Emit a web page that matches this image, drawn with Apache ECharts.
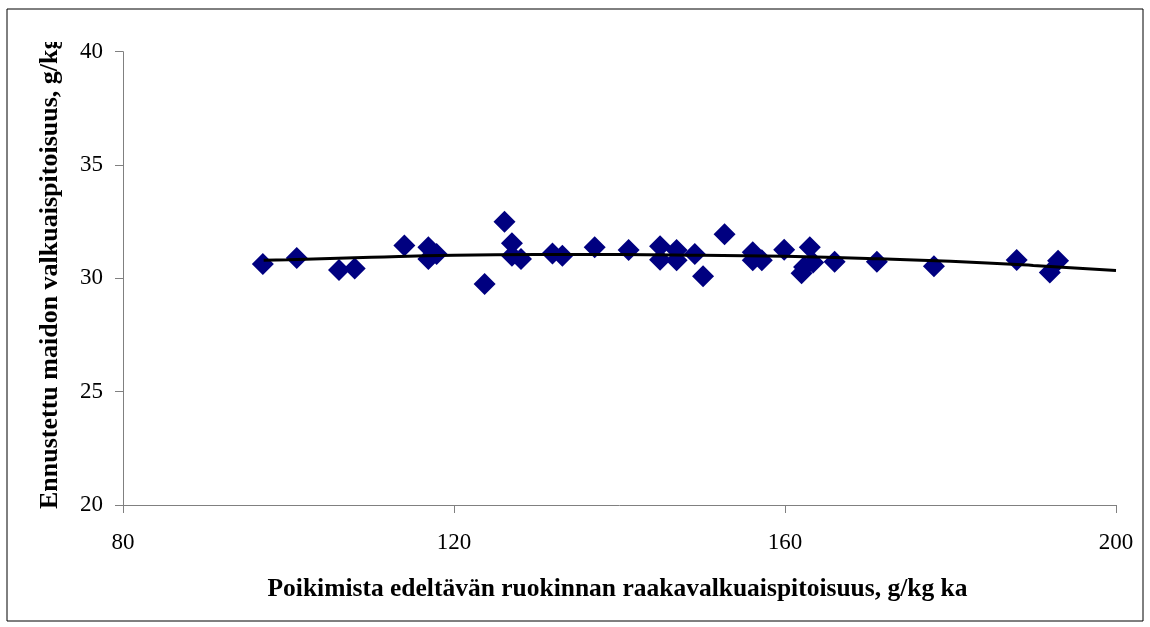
<!DOCTYPE html>
<html>
<head>
<meta charset="utf-8">
<script src="https://cdn.jsdelivr.net/npm/echarts@6/dist/echarts.min.js"></script>
<style>html,body{margin:0;padding:0;background:#fff}#c{width:1150px;height:627px}</style>
</head>
<body>
<div id="c"></div>
<script>
const xValues = [96.9,101.0,106.1,108.0,114.0,116.9,116.9,117.9,123.7,126.1,127.0,127.0,128.1,131.9,133.1,137.0,141.1,144.9,144.9,146.9,146.9,149.1,150.1,152.7,156.1,156.1,157.2,159.9,162.0,162.3,163.0,163.4,166.0,171.1,178.0,188.0,192.0,193.0];
const yValues = [30.63,30.90,30.37,30.44,31.45,31.37,30.85,31.07,29.75,32.50,31.55,31.0,30.85,31.10,31.0,31.37,31.25,31.42,30.82,31.25,30.8,31.07,30.09,31.95,31.15,30.8,30.8,31.26,30.22,30.5,31.37,30.7,30.73,30.73,30.53,30.81,30.26,30.78];
const trendX = [97,100,110,120,130,140,150,160,170,180,190,200];
const trendY = [30.8,30.82,30.93,31.02,31.05,31.05,31.02,30.97,30.88,30.75,30.57,30.35];
const xTicks = {min:80, max:200, interval:40};
const yTicks = {min:20, max:40, interval:5};
const xTitle = 'Poikimista edeltävän ruokinnan raakavalkuaispitoisuus, g/kg ka';
const yTitle = 'Ennustettu maidon valkuaispitoisuus, g/kg';

const font = '"Liberation Serif","Times New Roman",serif';
const chart = echarts.init(document.getElementById('c'));
const axisGray = '#808080';
chart.setOption({
  animation:false,
  backgroundColor:'#fff',
  grid:{left:123,right:34,top:51.7,bottom:122,containLabel:false},
  xAxis:{type:'value',min:xTicks.min,max:xTicks.max,interval:xTicks.interval,
    axisLine:{show:true,lineStyle:{color:axisGray,width:1}},
    axisTick:{show:true,length:8,inside:false,lineStyle:{color:axisGray}},
    splitLine:{show:false},
    axisLabel:{color:'#000',fontFamily:font,fontSize:23,margin:26}},
  yAxis:{type:'value',min:yTicks.min,max:yTicks.max,interval:yTicks.interval,
    axisLine:{show:true,lineStyle:{color:axisGray,width:1}},
    axisTick:{show:true,length:8,inside:false,lineStyle:{color:axisGray}},
    splitLine:{show:false},
    axisLabel:{color:'#000',fontFamily:font,fontSize:23,margin:20}},
  series:[
    {type:'scatter',data:xValues.map((x,i)=>[x,yValues[i]]),symbol:'diamond',symbolSize:22,
     itemStyle:{color:'#000080',opacity:1},z:2},
    {type:'line',data:trendX.map((x,i)=>[x,trendY[i]]),showSymbol:false,smooth:true,
     lineStyle:{color:'#000',width:3},z:3}
  ],
  graphic:[
    {type:'text',x:617.5,y:589,style:{text:xTitle,font:'bold 25.5px '+font,fill:'#000',align:'center',verticalAlign:'middle'}},
    {type:'text',x:50,y:509,rotation:Math.PI/2,style:{text:yTitle,font:'bold 26px '+font,fill:'#000',align:'left',verticalAlign:'middle'},z:1},
    {type:'rect',shape:{x:20,y:10,width:80,height:32},style:{fill:'#fff'},z:5},
    {type:'rect',shape:{x:7,y:9,width:1136,height:612},style:{fill:'none',stroke:'#000',lineWidth:1},z:6}
  ]
});
</script>
</body>
</html>
